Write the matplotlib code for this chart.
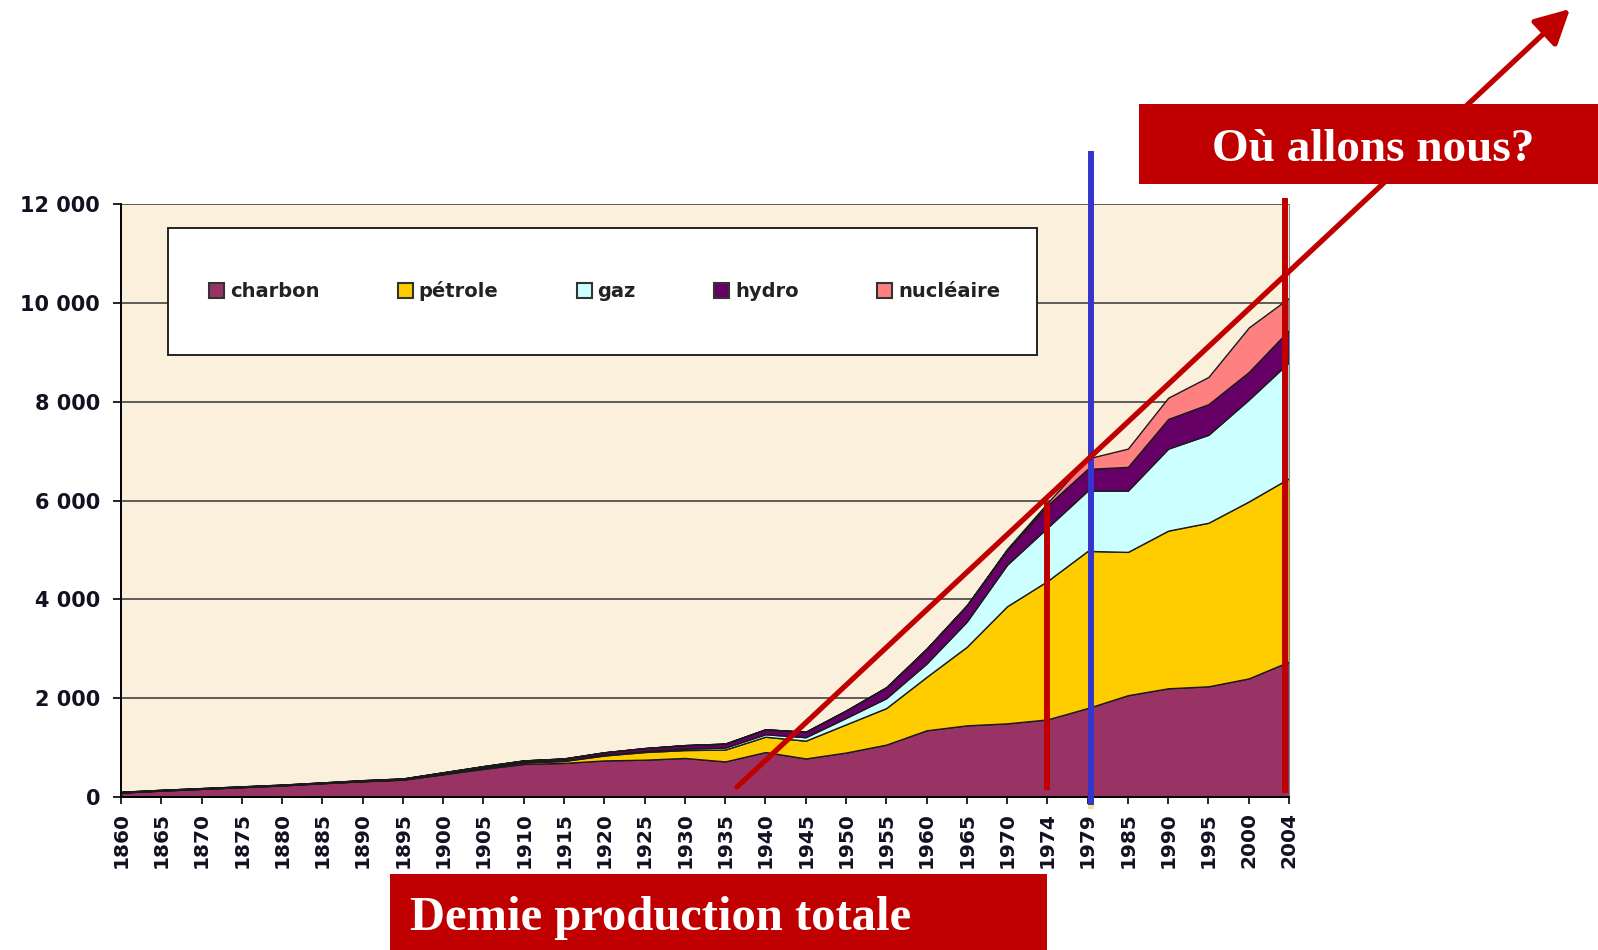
import matplotlib
matplotlib.use("Agg")
import matplotlib.pyplot as plt
from matplotlib.patches import Patch, Rectangle, FancyArrowPatch

years = ["1860", "1865", "1870", "1875", "1880", "1885", "1890", "1895", "1900", "1905",
         "1910", "1915", "1920", "1925", "1930", "1935", "1940", "1945", "1950", "1955",
         "1960", "1965", "1970", "1974", "1979", "1985", "1990", "1995", "2000", "2004"]

charbon = [90, 130, 165, 200, 235, 280, 320, 350, 460, 570,
           670, 690, 740, 755, 790, 720, 910, 780, 900, 1060,
           1350, 1450, 1490, 1570, 1800, 2060, 2200, 2240, 2400, 2740]
petrole = [0, 0, 0, 0, 0, 0, 0, 5, 10, 20,
           30, 40, 100, 155, 160, 240, 310, 360, 570, 740,
           1080, 1590, 2370, 2800, 3180, 2900, 3190, 3310, 3580, 3710]
gaz = [5, 5, 5, 5, 5, 5, 5, 5, 10, 10,
       10, 10, 15, 20, 30, 40, 50, 70, 130, 200,
       270, 510, 840, 1080, 1220, 1240, 1660, 1780, 2060, 2350]
hydro = [10, 10, 10, 10, 10, 10, 15, 15, 20, 25,
         30, 40, 50, 60, 70, 80, 100, 110, 150, 220,
         300, 330, 300, 450, 440, 480, 600, 620, 560, 650]
nucleaire = [0, 0, 0, 0, 0, 0, 0, 0, 0, 0,
             0, 0, 0, 0, 0, 0, 0, 0, 0, 0,
             0, 0, 20, 50, 210, 370, 430, 550, 900, 650]

series_names = ["charbon", "pétrole", "gaz", "hydro", "nucléaire"]
series_colors = ["#993366", "#FFCC00", "#CCFFFF", "#660066", "#FF8080"]

y_ticks = [0, 2000, 4000, 6000, 8000, 10000, 12000]
y_tick_labels = ["0", "2 000", "4 000", "6 000", "8 000", "10 000", "12 000"]

W, H = 1598, 950
fig = plt.figure(figsize=(W / 100, H / 100), dpi=100)
fig.patch.set_facecolor("white")

def fx(px):
    return px / W

def fy(py):
    return 1 - py / H

ax_left, ax_right, ax_top, ax_bot = 121, 1289, 204, 797
ax = fig.add_axes([fx(ax_left), fy(ax_bot), (ax_right - ax_left) / W, (ax_bot - ax_top) / H])
ax.set_facecolor("#FBF0DC")

x = list(range(len(years)))
ax.stackplot(x, charbon, petrole, gaz, hydro, nucleaire, colors=series_colors,
             edgecolor="#1a1a1a", linewidth=1.0, zorder=2)

ax.set_xlim(0, len(years) - 1)
ax.set_ylim(0, 12000)
ax.set_yticks(y_ticks)
ax.set_yticklabels(y_tick_labels, fontsize=15, fontweight="bold", color="#111122")
ax.set_xticks(x)
ax.set_xticklabels(years, rotation=90, fontsize=14.5, fontweight="bold", color="#111122")
ax.tick_params(axis="y", length=6, width=1.2, pad=9, direction="out")
ax.tick_params(axis="x", length=5, width=1.2, pad=6, direction="out")

ax.yaxis.grid(True, color="#333333", linewidth=1.1, zorder=1)
ax.set_axisbelow(True)
ax.spines["top"].set_visible(False)
ax.spines["right"].set_color("#888888")
ax.spines["left"].set_linewidth(1.4)
ax.spines["bottom"].set_linewidth(1.4)

def axx(px):
    return (px - ax_left) / (ax_right - ax_left)

def axy(py):
    return (ax_bot - py) / (ax_bot - ax_top)

lb = Rectangle((axx(168), axy(355)), axx(1037) - axx(168), axy(228) - axy(355),
               transform=ax.transAxes, facecolor="white", edgecolor="#222222",
               linewidth=1.4, zorder=5)
ax.add_patch(lb)
handles = [Patch(facecolor=c, edgecolor="#333333", linewidth=1.5) for c in series_colors]
leg = ax.legend(handles, series_names, ncol=5, mode="expand", frameon=False,
                loc="center", bbox_to_anchor=(axx(209), axy(291) - 0.01, axx(1000) - axx(209), 0.02),
                bbox_transform=ax.transAxes, borderpad=0, borderaxespad=0,
                handlelength=0.78, handleheight=0.78, handletextpad=0.3,
                prop={"size": 14, "weight": "bold"})
leg.set_zorder(6)
for t in leg.get_texts():
    t.set_color("#222222")

i74, i79, i04 = years.index("1974"), years.index("1979"), years.index("2004")
ax.plot([i79 + 0.08, i79 + 0.08], [-165, 13075], color="#3535CC", linewidth=4.3, clip_on=False,
        zorder=8, solid_capstyle="butt")
ax.plot([i79 + 0.08, i79 + 0.08], [-240, -30], color="#FFE08A", linewidth=4.3, clip_on=False,
        zorder=7, solid_capstyle="butt")
ax.plot([i74, i74], [140, 5970], color="#C00000", linewidth=4.3, clip_on=False, zorder=8,
        solid_capstyle="butt")
ax.plot([i04 - 0.1, i04 - 0.1], [80, 12120], color="#C00000", linewidth=4.3, clip_on=False,
        zorder=8, solid_capstyle="butt")

arrow = FancyArrowPatch((fx(737), fy(787)), (fx(1570), fy(9)), transform=fig.transFigure,
                        arrowstyle="-|>,head_length=1.05,head_width=0.55", mutation_scale=20,
                        color="#C00000", linewidth=3.8, shrinkA=0, shrinkB=0, zorder=20)
fig.add_artist(arrow)

top_box = Rectangle((fx(1139), fy(184)), (W - 1139) / W, 80 / H, transform=fig.transFigure,
                    facecolor="#C00000", edgecolor="none", zorder=30)
fig.add_artist(top_box)
fig.text(fx(1373), fy(150), "Où allons nous?", ha="center", va="center", fontsize=34,
         family="Liberation Serif", fontweight="bold", color="white", zorder=31)

bot_box = Rectangle((fx(390), 0), 657 / W, 76 / H, transform=fig.transFigure,
                    facecolor="#C00000", edgecolor="none", zorder=30)
fig.add_artist(bot_box)
fig.text(fx(410), fy(918), "Demie production totale", ha="left", va="center", fontsize=35,
         family="Liberation Serif", fontweight="bold", color="white", zorder=31)

fig.savefig("out.png", dpi=100, facecolor="white")
